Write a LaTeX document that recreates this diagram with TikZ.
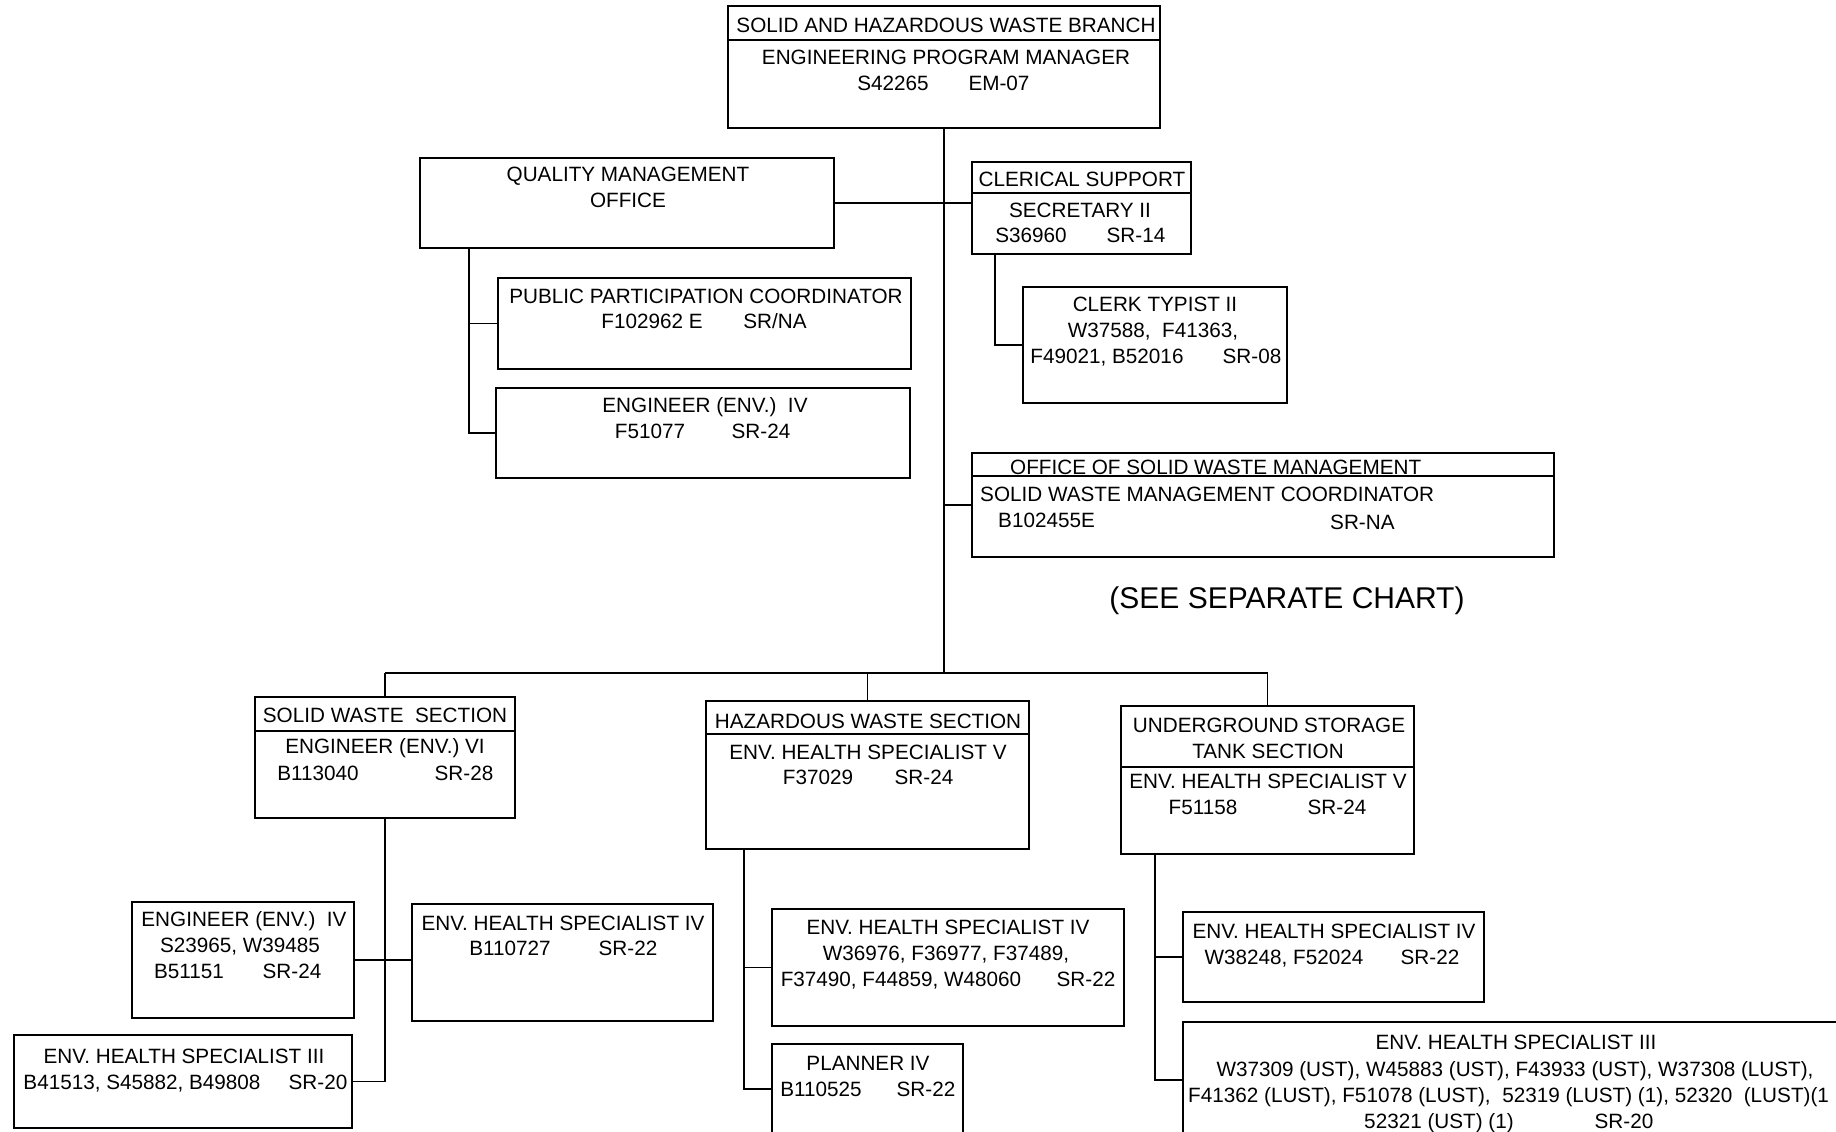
\documentclass[tikz,border=0pt]{standalone}
\usepackage{fontspec}
\setmainfont{Liberation Sans}
\usetikzlibrary{fit,calc}
\newcommand\chartfs{\fontsize{20.7pt}{25pt}\selectfont}
\newcommand\bigfs{\fontsize{30pt}{36pt}\selectfont}
\begin{document}
\begin{tikzpicture}[x=1pt,y=-1pt,
  box/.style={draw, line width=1.8pt, inner sep=0pt},
  ln/.style={line width=1.8pt},
  t/.style={inner sep=0pt, anchor=base, font=\chartfs},
  tw/.style={inner sep=0pt, anchor=base west, font=\chartfs}]
\useasboundingbox (0,0) rectangle (1836,1132);
\fill[white] (0,0) rectangle (1836,1132);
\clip (0,0) rectangle (1836,1132);

% ---------- boxes ----------
\node[box, fit={(728,6) (1160,128)}] (top) {};
\node[box, fit={(420,158) (834,248)}] (qm) {};
\node[box, fit={(972,162) (1191,254)}] (cler) {};
\node[box, fit={(498,278) (911,369)}] (ppc) {};
\node[box, fit={(496,388) (910,478)}] (engA) {};
\node[box, fit={(1023,287) (1287,403)}] (clerk) {};
\node[box, fit={(972,453) (1554,557)}] (oswm) {};
\node[box, fit={(255,697) (515,818)}] (sw) {};
\node[box, fit={(706,701) (1029,849)}] (hw) {};
\node[box, fit={(1121,706) (1414,854)}] (ust) {};
\node[box, fit={(132,902) (354,1018)}] (engB) {};
\node[box, fit={(412,904) (713,1021)}] (ehsIVa) {};
\node[box, fit={(14,1035) (352,1128)}] (ehsIIIa) {};
\node[box, fit={(772,909) (1124,1026)}] (ehsIVb) {};
\node[box, fit={(772,1044) (963,1134)}] (plan) {};
\node[box, fit={(1183,912) (1484,1002)}] (ehsIVc) {};
\node[box, fit={(1183,1022) (1900,1138)}] (ehsIIIc) {};

% ---------- dividers ----------
\draw[ln] ($(top.north west)+(0,35)$) -- ($(top.north east)+(0,35)$);
\draw[ln] ($(cler.north west)+(0,32)$) -- ($(cler.north east)+(0,32)$);
\draw[ln] ($(oswm.north west)+(0,24)$) -- ($(oswm.north east)+(0,24)$);
\draw[ln] ($(sw.north west)+(0,35)$) -- ($(sw.north east)+(0,35)$);
\draw[ln] ($(hw.north west)+(0,34)$) -- ($(hw.north east)+(0,34)$);
\draw[ln] ($(ust.north west)+(0,62)$) -- ($(ust.north east)+(0,62)$);

% ---------- connectors ----------
\coordinate (bar) at (944,673);
\draw[ln] (top.south) -- (bar);
\draw[ln] (qm.east) -- (qm.east -| cler.west);
\draw[ln] (oswm.west -| top.south) -- (oswm.west);
\draw[ln] ($(qm.south west)+(50,0)$) coordinate (qmv) |- (engA.west);
\draw[ln] (qmv |- ppc.west) -- (ppc.west);
\draw[ln] ($(cler.south west)+(24,0)$) |- (clerk.west);
\draw[ln] (sw.north |- bar) -- (ust.north |- bar);
\draw[ln] (sw.north |- bar) -- (sw.north);
\draw[ln] (hw.north |- bar) -- (hw.north);
\draw[ln] (ust.north |- bar) -- (ust.north);
\draw[ln] (sw.south) |- (ehsIIIa.east);
\draw[ln] (engB.east) -- (engB.east -| ehsIVa.west);
\draw[ln] ($(hw.south west)+(39,0)$) coordinate (hwv) |- (plan.west);
\draw[ln] (hwv |- ehsIVb.west) -- (ehsIVb.west);
\draw[ln] ($(ust.south west)+(35,0)$) coordinate (ustv) |- (ehsIIIc.west);
\draw[ln] (ustv |- ehsIVc.west) -- (ehsIVc.west);

% ---------- texts ----------
\node[t] (t1) at (946,33) {SOLID AND HAZARDOUS WASTE BRANCH};
\node[t] (t2) at (946,64) {ENGINEERING PROGRAM MANAGER};
\node[t] (t3) at (893,90) {S42265};
\node[t] (t4) at (999,90) {EM-07};

\node[t] (q1) at (628,181) {QUALITY MANAGEMENT};
\node[t] (q2) at (628,207) {OFFICE};

\node[t] (c1) at (1082,186) {CLERICAL SUPPORT};
\node[t] (c2) at (1080,217) {SECRETARY II};
\node[t] (c3) at (1031,242) {S36960};
\node[t] (c4) at (1136,242) {SR-14};

\node[t] (p1) at (706,303) {PUBLIC PARTICIPATION COORDINATOR};
\node[t] (p2) at (652,328) {F102962 E};
\node[t] (p3) at (775,328) {SR/NA};

\node[t] (e1) at (705,412) {ENGINEER (ENV.)\ \ IV};
\node[t] (e2) at (650,438) {F51077};
\node[t] (e3) at (761,438) {SR-24};

\node[t] (k1) at (1155,311) {CLERK TYPIST II};
\node[t] (k2) at (1153,337) {W37588,\ \ F41363,};
\node[t] (k3) at (1107,363) {F49021, B52016};
\node[t] (k4) at (1252,363) {SR-08};

\node[tw] (o1) at (1010,474) {OFFICE OF SOLID WASTE MANAGEMENT};
\node[tw] (o2) at (980,501) {SOLID WASTE MANAGEMENT COORDINATOR};
\node[tw] (o3) at (998,527) {B102455E};
\node[tw] (o4) at (1330,529) {SR-NA};

\node[inner sep=0pt, anchor=base, font=\bigfs] (see) at (1287,608) {(SEE SEPARATE CHART)};

\node[t] (s1) at (385,722) {SOLID WASTE\ \ SECTION};
\node[t] (s2) at (385,753) {ENGINEER (ENV.) VI};
\node[t] (s3) at (318,780) {B113040};
\node[t] (s4) at (464,780) {SR-28};

\node[t] (h1) at (868,728) {HAZARDOUS WASTE SECTION};
\node[t] (h2) at (868,759) {ENV. HEALTH SPECIALIST V};
\node[t] (h3) at (818,784) {F37029};
\node[t] (h4) at (924,784) {SR-24};

\node[t] (u1) at (1269,732) {UNDERGROUND STORAGE};
\node[t] (u2) at (1268,758) {TANK SECTION};
\node[t] (u3) at (1268,788) {ENV. HEALTH SPECIALIST V};
\node[t] (u4) at (1203,814) {F51158};
\node[t] (u5) at (1337,814) {SR-24};

\node[t] (g1) at (244,926) {ENGINEER (ENV.)\ \ IV};
\node[t] (g2) at (240,952) {S23965, W39485};
\node[t] (g3) at (189,978) {B51151};
\node[t] (g4) at (292,978) {SR-24};

\node[t] (a1) at (563,930) {ENV. HEALTH SPECIALIST IV};
\node[t] (a2) at (510,955) {B110727};
\node[t] (a3) at (628,955) {SR-22};

\node[t] (b1) at (184,1063) {ENV. HEALTH SPECIALIST III};
\node[t] (b2) at (142,1089) {B41513, S45882, B49808};
\node[t] (b3) at (318,1089) {SR-20};

\node[t] (d1) at (948,934) {ENV. HEALTH SPECIALIST IV};
\node[t] (d2) at (946,960) {W36976, F36977, F37489,};
\node[t] (d3) at (901,986) {F37490, F44859, W48060};
\node[t] (d4) at (1086,986) {SR-22};

\node[t] (n1) at (868,1070) {PLANNER IV};
\node[t] (n2) at (821,1096) {B110525};
\node[t] (n3) at (926,1096) {SR-22};

\node[t] (f1) at (1334,938) {ENV. HEALTH SPECIALIST IV};
\node[t] (f2) at (1284,964) {W38248, F52024};
\node[t] (f3) at (1430,964) {SR-22};

\node[t] (m1) at (1516,1049) {ENV. HEALTH SPECIALIST III};
\node[t] (m2) at (1515,1076) {W37309 (UST), W45883 (UST), F43933 (UST), W37308 (LUST),};
\node[tw] (m3) at (1188,1102) {F41362 (LUST), F51078 (LUST),\ \ 52319 (LUST) (1), 52320\ \ (LUST)(1};
\node[t] (m4) at (1439,1128) {52321 (UST) (1)};
\node[t] (m5) at (1624,1128) {SR-20};
\end{tikzpicture}
\end{document}
